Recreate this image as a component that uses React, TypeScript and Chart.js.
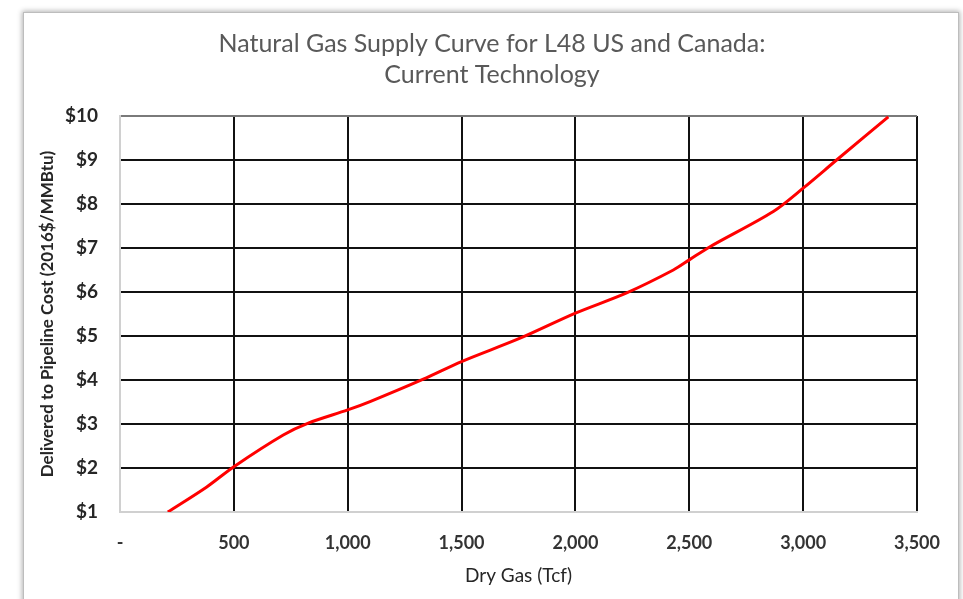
import React, { useEffect, useRef } from "react";
import { Chart, registerables } from "chart.js";

Chart.register(...registerables);

const titleLines = ["Natural Gas Supply Curve for L48 US and Canada:", "Current Technology"];
const xAxisTitle = "Dry Gas (Tcf)";
const yAxisTitle = "Delivered to Pipeline Cost (2016$/MMBtu)";

// Cumulative dry gas (Tcf)
const dryGas = [210, 381, 500, 717, 827, 1000, 1098, 1332, 1500, 1757, 2000, 2225, 2430, 2500, 2591, 2869, 3000, 3147, 3374];
// Cost ($/MMBtu)
const cost = [1.0, 1.57, 2.03, 2.75, 3.02, 3.32, 3.51, 4.02, 4.42, 4.95, 5.52, 5.98, 6.5, 6.73, 7.03, 7.83, 8.36, 9.0, 9.98];

const xMin = 0;
const xMax = 3500;
const xStep = 500;
const yMin = 1;
const yMax = 10;
const yStep = 1;

const FONT = "Lato, 'Open Sans', sans-serif";

const titlePlugin = {
  id: "customTitle",
  afterDraw(chart: any) {
    const ctx = chart.ctx;
    ctx.save();
    ctx.fillStyle = "#595959";
    ctx.font = `25px ${FONT}`;
    ctx.textAlign = "center";
    ctx.textBaseline = "middle";
    ctx.fillText(titleLines[0], 492, 44);
    ctx.fillText(titleLines[1], 492, 75);
    ctx.restore();
  },
};

export default function App() {
  const ref = useRef<HTMLCanvasElement | null>(null);

  useEffect(() => {
    if (!ref.current) return;
    const chart = new Chart(ref.current, {
      type: "line",
      data: {
        datasets: [
          {
            data: dryGas.map((x, i) => ({ x, y: cost[i] })),
            borderColor: "#ff0000",
            borderWidth: 3,
            pointRadius: 0,
            tension: 0.3,
            fill: false,
          },
        ],
      },
      options: {
        responsive: false,
        animation: false,
        layout: { padding: { left: 24, right: 46, top: 116, bottom: 2 } },
        plugins: {
          legend: { display: false },
          title: { display: false },
          tooltip: { enabled: false },
        },
        scales: {
          x: {
            type: "linear",
            min: xMin,
            max: xMax,
            afterFit: (s: any) => {
              s.height = 85;
            },
            afterBuildTicks: (s: any) => {
              const t = [];
              for (let v = xMin; v <= xMax; v += xStep) t.push({ value: v });
              s.ticks = t;
            },
            ticks: {
              padding: 20,
              color: "#333333",
              font: { family: FONT, size: 18, weight: "bold" },
              maxRotation: 0,
              callback: (v: any) => (v === 0 ? "-" : Number(v).toLocaleString("en-US")),
            },
            grid: {
              drawTicks: false,
              lineWidth: 2,
              color: (c: any) => (c.tick && c.tick.value === 0 ? "rgba(0,0,0,0)" : "#111111"),
            },
            border: { color: "#d0d0d0", width: 2 },
            title: {
              display: true,
              text: xAxisTitle,
              color: "#262626",
              font: { family: FONT, size: 19 },
              padding: { top: 0, bottom: 10 },
            },
          },
          y: {
            type: "linear",
            min: yMin,
            max: yMax,
            afterFit: (s: any) => {
              s.width = 96;
            },
            ticks: {
              stepSize: yStep,
              padding: 22,
              color: "#262626",
              font: { family: FONT, size: 19, weight: "bold" },
              callback: (v: any) => "$" + v,
            },
            grid: {
              drawTicks: false,
              lineWidth: 2,
              color: (c: any) =>
                c.tick && (c.tick.value === yMin)
                  ? "rgba(0,0,0,0)"
                  : c.tick && c.tick.value === yMax
                  ? "#7a7a7a"
                  : "#111111",
            },
            border: { color: "#d0d0d0", width: 2 },
            title: {
              display: true,
              text: yAxisTitle,
              color: "#262626",
              font: { family: FONT, size: 17, weight: "bold" },
              padding: { top: 13, bottom: 0 },
            },
          },
        },
      },
      plugins: [titlePlugin],
    });
    return () => chart.destroy();
  }, []);

  return (
    <div style={{ position: "absolute", left: 0, top: 0, width: 963, height: 599, background: "#ffffff", overflow: "hidden" }}>
      <div
        style={{
          position: "absolute",
          left: 23,
          top: 12,
          width: 934,
          height: 590,
          border: "1px solid #bdbdbd",
          boxShadow: "0 0 5px 1px rgba(0,0,0,0.3)",
          background: "#ffffff",
        }}
      />
      <canvas ref={ref} width={963} height={599} style={{ position: "absolute", left: 0, top: 0 }} />
    </div>
  );
}
